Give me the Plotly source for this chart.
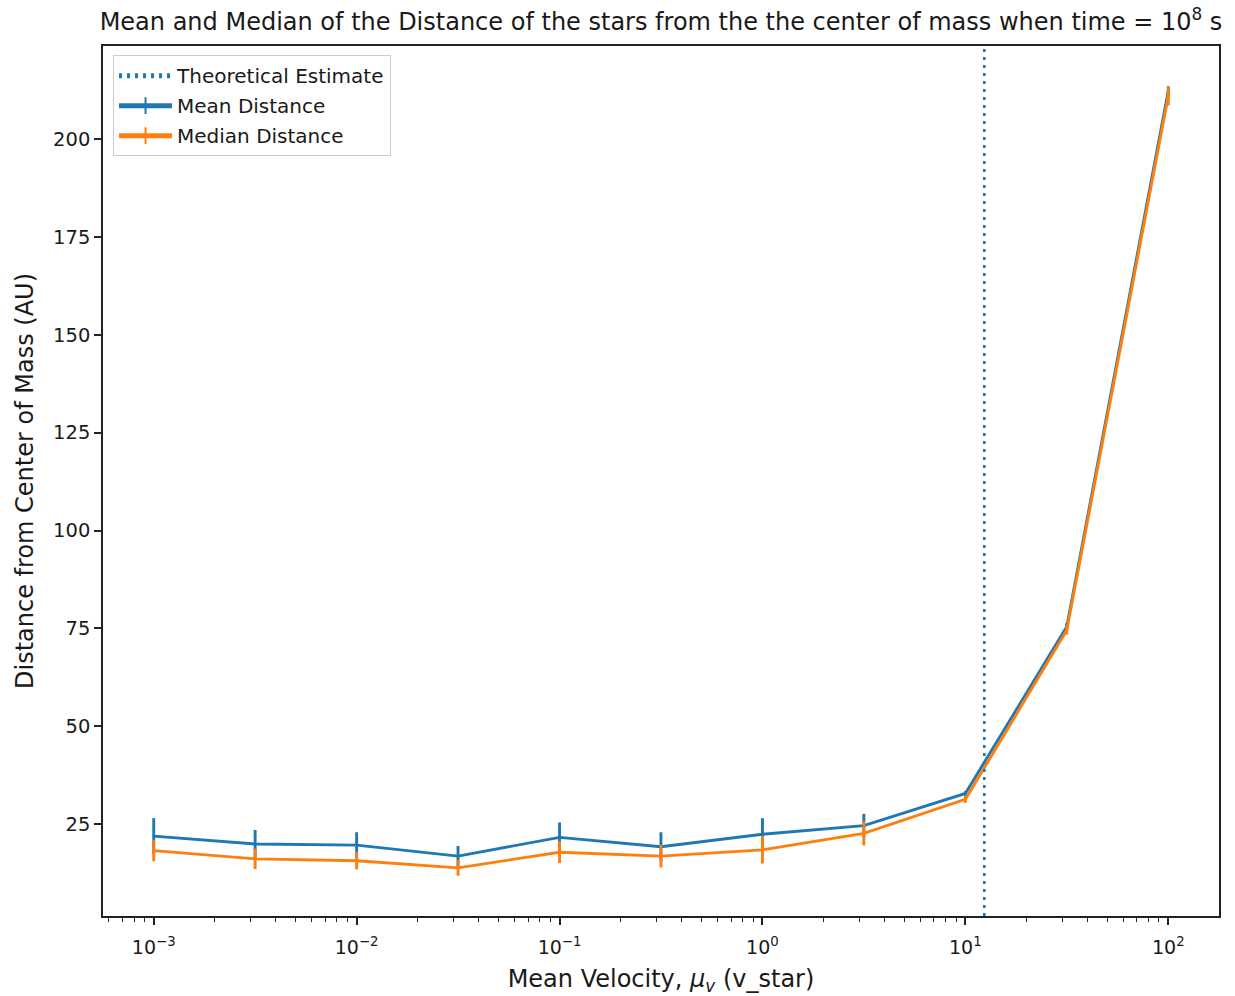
import plotly.graph_objects as go

# ---- data ----
mean_velocity = [0.001, 0.00316, 0.01, 0.0316, 0.1, 0.316, 1.0, 3.16, 10.0, 31.6, 100.0]
mean_distance = [21.9, 19.9, 19.6, 16.8, 21.6, 19.2, 22.4, 24.6, 32.8, 75.4, 212.3]
mean_error = [4.6, 3.6, 3.3, 2.6, 3.8, 3.7, 4.1, 3.0, 0.6, 1.0, 1.2]
median_distance = [18.2, 16.1, 15.6, 13.8, 17.8, 16.8, 18.4, 22.6, 31.3, 74.5, 211.0]
median_error = [2.7, 2.6, 2.2, 2.0, 2.8, 2.9, 3.5, 3.1, 0.9, 1.1, 2.4]
theoretical_estimate = 12.4

x_tick_vals = [1e-3, 1e-2, 1e-1, 1e0, 1e1, 1e2]
x_tick_text = ["10<sup>−3</sup>", "10<sup>−2</sup>", "10<sup>−1</sup>",
               "10<sup>0</sup>", "10<sup>1</sup>", "10<sup>2</sup>"]
y_tick_vals = [25, 50, 75, 100, 125, 150, 175, 200]

C0 = "#1f77b4"
C1 = "#ff7f0e"
FONT = "DejaVu Sans"
TXT = "#1a1a1a"

minor_vals = [k * 10.0 ** d for d in range(-4, 3) for k in range(2, 10)]

fig = go.Figure()

fig.add_trace(go.Scatter(
    x=[theoretical_estimate, theoretical_estimate], y=[0, 1],
    yaxis="y2", mode="lines", name="Theoretical Estimate",
    line=dict(color=C0, width=2.6, dash="3px,5px"),
    legendgroup="a", hoverinfo="skip",
))

fig.add_trace(go.Scatter(
    x=mean_velocity, y=mean_distance, mode="lines+markers", name="Mean Distance",
    line=dict(color=C0, width=2.9),
    marker=dict(symbol="line-ns", size=1, color=C0, line=dict(color=C0, width=2.9)),
    error_y=dict(type="data", array=mean_error, color=C0, thickness=2.9, width=0),
    legendgroup="b",
))

fig.add_trace(go.Scatter(
    x=mean_velocity, y=median_distance, mode="lines+markers", name="Median Distance",
    line=dict(color=C1, width=2.9),
    marker=dict(symbol="line-ns", size=1, color=C1, line=dict(color=C1, width=2.9)),
    error_y=dict(type="data", array=median_error, color=C1, thickness=2.9, width=0),
    legendgroup="c",
))

fig.update_layout(
    width=1235, height=996,
    margin=dict(l=103, r=16, t=46, b=80, autoexpand=False),
    paper_bgcolor="white", plot_bgcolor="white",
    font=dict(family=FONT, size=19, color=TXT),
    title=dict(
        text="Mean and Median of the Distance of the stars from the the center of mass when time = 10<sup>8</sup> s",
        x=0.5, xref="paper", xanchor="center",
        y=1 - 22 / 996, yref="container", yanchor="middle",
        font=dict(family=FONT, size=24, color=TXT),
    ),
    xaxis=dict(
        type="log", range=[-3.25, 2.25], automargin=False,
        tickvals=x_tick_vals, ticktext=x_tick_text,
        ticks="outside", ticklen=7, tickwidth=1.5, tickcolor="#222",
        minor=dict(tickvals=minor_vals, ticks="outside", ticklen=4, tickwidth=1.2,
                   tickcolor="#222", showgrid=False),
        showline=True, linecolor="#222", linewidth=1.5, mirror=True,
        showgrid=False, zeroline=False,
        tickfont=dict(size=19, color=TXT), ticklabelstandoff=6,
        title=dict(text="Mean Velocity, <i>μ<sub>v</sub></i> (v_star)",
                   font=dict(size=24, color=TXT), standoff=22),
    ),
    yaxis=dict(
        range=[1.5, 223.8], automargin=False,
        tickvals=y_tick_vals,
        ticks="outside", ticklen=7, tickwidth=1.5, tickcolor="#222",
        showline=True, linecolor="#222", linewidth=1.5, mirror=True,
        showgrid=False, zeroline=False,
        tickfont=dict(size=19.5, color=TXT),
        title=dict(text="Distance from Center of Mass (AU)",
                   font=dict(size=24, color=TXT), standoff=13),
    ),
    yaxis2=dict(overlaying="y", range=[0, 1], visible=False, fixedrange=True),
    legend=dict(
        x=0.009, y=0.9895, xanchor="left", yanchor="top",
        bgcolor="rgba(255,255,255,0.8)", bordercolor="#cccccc", borderwidth=1,
        font=dict(size=20, color=TXT),
        itemwidth=53, traceorder="grouped", tracegroupgap=1,
        itemsizing="constant",
    ),
    showlegend=True,
)

fig.write_html("out.html", config={"displayModeBar": False},
               post_script="document.body.style.margin='0px';")
